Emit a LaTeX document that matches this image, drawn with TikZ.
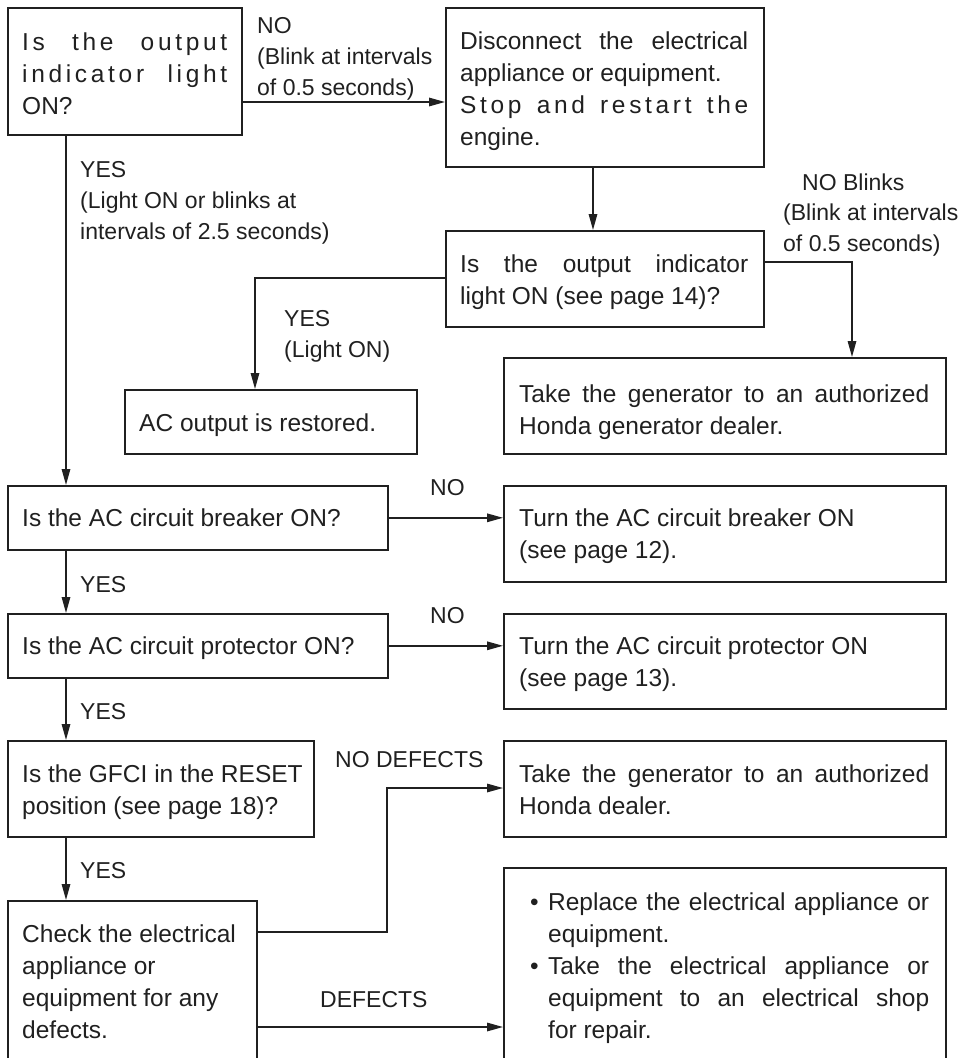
\documentclass[tikz,border=0pt]{standalone}
\usepackage{fontspec}
\setmainfont{Liberation Sans}
\newfontfamily\lsfont[LetterSpace=15]{Liberation Sans}
\usetikzlibrary{arrows.meta}
\definecolor{ink}{HTML}{202020}
\tikzset{
  box/.style={draw=ink, line width=1.6pt, rectangle, inner sep=0pt, anchor=north west},
  txt/.style={anchor=base west, inner sep=0pt, text=ink, font=\fontsize{24.5}{32}\selectfont},
  lbl/.style={anchor=base west, inner sep=0pt, text=ink, font=\fontsize{23}{31}\selectfont},
  conn/.style={draw=ink, line width=1.5pt, -{Triangle[length=16pt,width=8.5pt]}},
}
\newcommand{\spr}[2]{\makebox[#1][s]{#2}}
\begin{document}
\begin{tikzpicture}[x=1pt,y=-1pt]
\useasboundingbox (0,0) rectangle (963,1058);
% boxes
\node[box, minimum width=234pt, minimum height=127pt] (b1) at (7,7) {};
\node[box, minimum width=318pt, minimum height=159pt] (b2) at (445,7) {};
\node[box, minimum width=318pt, minimum height=96pt] (b3) at (445,230) {};
\node[box, minimum width=442pt, minimum height=96pt] (b4) at (503,357) {};
\node[box, minimum width=292pt, minimum height=64pt] (ac) at (124,389) {};
\node[box, minimum width=380pt, minimum height=64pt] (brk) at (7,485) {};
\node[box, minimum width=442pt, minimum height=96pt] (tbrk) at (503,485) {};
\node[box, minimum width=380pt, minimum height=64pt] (prot) at (7,613) {};
\node[box, minimum width=442pt, minimum height=95pt] (tprot) at (503,613) {};
\node[box, minimum width=306pt, minimum height=96pt] (gfci) at (7,740) {};
\node[box, minimum width=442pt, minimum height=96pt] (hdeal) at (503,740) {};
\node[box, minimum width=249pt, minimum height=170pt] (check) at (7,900) {};
\node[box, minimum width=442pt, minimum height=200pt] (bul) at (503,867) {};
% box texts
\node[txt] (t1) at (22,50) {\parbox[t]{205pt}{\spr{205pt}{\lsfont Is the output}\\\spr{205pt}{\lsfont indicator light}\\ON?}};
\node[txt] (t2) at (460,49) {\parbox[t]{288pt}{\spr{288pt}{Disconnect the electrical}\\appliance or equipment.\\\spr{288pt}{\lsfont Stop and restart the}\\engine.}};
\node[txt] (t3) at (460,272) {\parbox[t]{288pt}{\spr{288pt}{Is the output indicator}\\light ON (see page 14)?}};
\node[txt] (t4) at (519,402) {\parbox[t]{410pt}{\spr{410pt}{Take the generator to an authorized}\\Honda generator dealer.}};
\node[txt] (tac) at (139,431) {AC output is restored.};
\node[txt] (tbrkq) at (22,526) {Is the AC circuit breaker ON?};
\node[txt] (tbrka) at (519,526) {\parbox[t]{410pt}{Turn the AC circuit breaker ON\\(see page 12).}};
\node[txt] (tprotq) at (22,654) {Is the AC circuit protector ON?};
\node[txt] (tprota) at (519,654) {\parbox[t]{410pt}{Turn the AC circuit protector ON\\(see page 13).}};
\node[txt] (tgfci) at (22,782) {\parbox[t]{300pt}{Is the GFCI in the RESET\\position (see page 18)?}};
\node[txt] (thdeal) at (519,782) {\parbox[t]{410pt}{\spr{410pt}{Take the generator to an authorized}\\Honda dealer.}};
\node[txt] (tcheck) at (22,942) {\parbox[t]{230pt}{Check the electrical\\appliance or\\equipment for any\\defects.}};
\node[txt] (tbul) at (530,910) {\parbox[t]{399pt}{%
\makebox[18pt][l]{•}\spr{381pt}{Replace the electrical appliance or}\\
\hspace*{18pt}equipment.\\
\makebox[18pt][l]{•}\spr{381pt}{Take the electrical appliance or}\\
\hspace*{18pt}\spr{381pt}{equipment to an electrical shop}\\
\hspace*{18pt}for repair.}};
% labels
\node[lbl] (l1) at (257,33) {\parbox[t]{200pt}{NO\\(Blink at intervals\\of 0.5 seconds)}};
\node[lbl] (l2) at (80,177) {\parbox[t]{300pt}{YES\\(Light ON or blinks at\\intervals of 2.5 seconds)}};
\node[lbl] (l3a) at (802,190) {NO Blinks};
\node[lbl] (l3b) at (783,220) {\parbox[t]{180pt}{(Blink at intervals\\of 0.5 seconds)}};
\node[lbl] (l4) at (284,326) {\parbox[t]{150pt}{YES\\(Light ON)}};
\node[lbl] (l5) at (430,495) {NO};
\node[lbl] (l6) at (430,623) {NO};
\node[lbl] (l7) at (80,592) {YES};
\node[lbl] (l8) at (80,719) {YES};
\node[lbl] (l9) at (80,878) {YES};
\node[lbl] (l10) at (335,767) {NO DEFECTS};
\node[lbl] (l11) at (320,1007) {DEFECTS};
% helper coordinates
\coordinate (h1) at (0,102);
\coordinate (vY) at (66,0);
\coordinate (vB) at (593,0);
\coordinate (hR) at (0,262);
\coordinate (vR) at (852,0);
\coordinate (hL) at (0,278);
\coordinate (vL) at (255,0);
\coordinate (nd1) at (387,932);
\coordinate (nd2) at (387,788);
\coordinate (hD) at (0,1027);
% connectors
\draw[conn] (b1.east |- h1) -- (b2.west |- h1);
\draw[conn] (b1.south -| vY) -- (brk.north -| vY);
\draw[conn] (b2.south -| vB) -- (b3.north -| vB);
\draw[conn] (b3.east |- hR) -| (b4.north -| vR);
\draw[conn] (b3.west |- hL) -| (ac.north -| vL);
\draw[conn] (brk.east) -- (tbrk.west |- brk.east);
\draw[conn] (prot.east) -- (tprot.west |- prot.east);
\draw[conn] (brk.south -| vY) -- (prot.north -| vY);
\draw[conn] (prot.south -| vY) -- (gfci.north -| vY);
\draw[conn] (gfci.south -| vY) -- (check.north -| vY);
\draw[conn] (check.east |- nd1) -- (nd1) -- (nd2) -- (hdeal.west |- nd2);
\draw[conn] (check.east |- hD) -- (bul.west |- hD);
\end{tikzpicture}
\end{document}
